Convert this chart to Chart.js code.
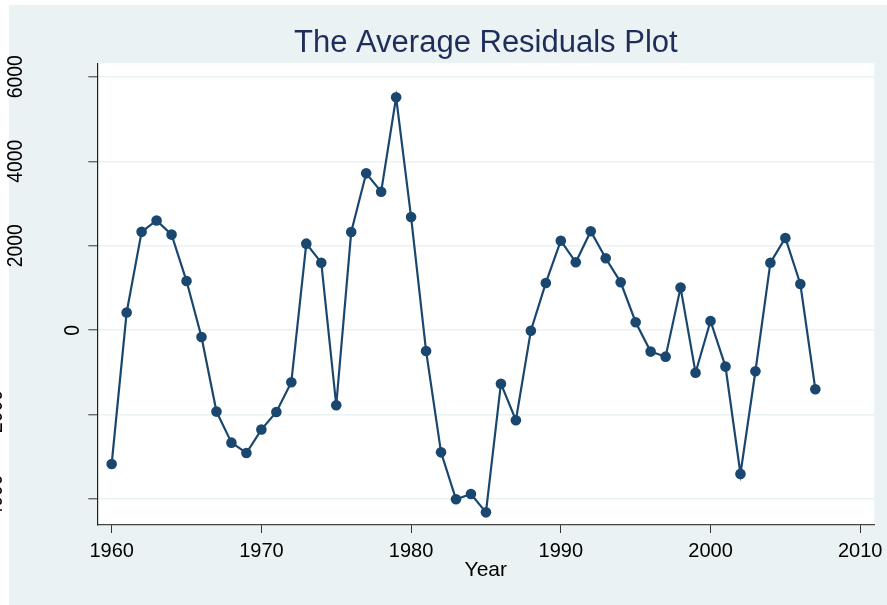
<!DOCTYPE html>
<html>
<head>
<meta charset="utf-8">
<script src="https://cdn.jsdelivr.net/npm/chart.js@4.4.0/dist/chart.umd.min.js"></script>
<style>
  html, body { margin: 0; padding: 0; background: #ffffff; }
  #wrap { width: 887px; height: 605px; }
</style>
</head>
<body>
<div id="wrap"><canvas id="residualsChart"></canvas></div>
<script>
// values
const years = [1960, 1961, 1962, 1963, 1964, 1965, 1966, 1967, 1968, 1969,
               1970, 1971, 1972, 1973, 1974, 1975, 1976, 1977, 1978, 1979,
               1980, 1981, 1982, 1983, 1984, 1985, 1986, 1987, 1988, 1989,
               1990, 1991, 1992, 1993, 1994, 1995, 1996, 1997, 1998, 1999,
               2000, 2001, 2002, 2003, 2004, 2005, 2006, 2007];
const residuals = [-3165, 420, 2330, 2600, 2265, 1165, -160, -1925, -2660, -2905,
                   -2350, -1935, -1230, 2050, 1600, -1775, 2325, 3715, 3280, 5515,
                   2680, -490, -2890, -4000, -3875, -4310, -1265, -2130, -10, 1120,
                   2120, 1610, 2345, 1705, 1135, 190, -505, -625, 1010, -1005,
                   220, -860, -3400, -970, 1600, 2185, 1095, -1395];
const xTicks = [1960, 1970, 1980, 1990, 2000, 2010];
const yTicks = [-4000, -2000, 0, 2000, 4000, 6000];

const navy = "#1a476f";
const bgColor = "#eaf2f3";
const fontFamily = '"Liberation Sans", Arial, Helvetica, sans-serif';

// stata-like background: light outer region, white plot region
const backgroundPlugin = {
    id: "stataBackground",
    beforeDraw(chart) {
        const ctx = chart.ctx;
        const a = chart.chartArea;
        ctx.save();
        ctx.fillStyle = "#ffffff";
        ctx.fillRect(0, 0, chart.width, chart.height);
        ctx.fillStyle = bgColor;
        ctx.fillRect(9, 5, chart.width - 9, chart.height - 5);
        ctx.fillStyle = "#ffffff";
        ctx.fillRect(a.left, a.top, a.right - a.left, a.bottom - a.top);
        ctx.restore();
    }
};

// rotated y tick labels, placed the way the reference has them
// (longer labels drift left and the negative ones run off the edge)
const yLabelPlugin = {
    id: "rotatedYLabels",
    afterDraw(chart) {
        const ctx = chart.ctx;
        const ys = chart.scales.y;
        const left = chart.chartArea.left;
        const squeeze = 0.88;
        ctx.save();
        ctx.font = "22px " + fontFamily;
        ctx.fillStyle = "#000000";
        ctx.textAlign = "center";
        ctx.textBaseline = "middle";
        ys.ticks.forEach((t) => {
            const label = String(t.value);
            const len = ctx.measureText(label.replace("-", "\u2212")).width * squeeze;
            const cx = left - 5.9 - 1.76 * len;
            ctx.save();
            ctx.translate(cx, ys.getPixelForValue(t.value));
            ctx.rotate(-Math.PI / 2);
            ctx.scale(squeeze, 1);
            ctx.fillText(label, 0, 0);
            ctx.restore();
        });
        ctx.restore();
    }
};

const ctx1 = document.getElementById("residualsChart").getContext("2d");

new Chart(ctx1, {
    type: "line",
    data: {
        datasets: [{
            label: "Average residual",
            data: years.map((yr, i) => ({ x: yr, y: residuals[i] })),
            borderColor: navy,
            backgroundColor: navy,
            borderWidth: 2.2,
            pointRadius: 5.3,
            pointBorderWidth: 0,
            pointBackgroundColor: navy,
            lineTension: 0,
            fill: false
        }]
    },
    options: {
        responsive: true,
        maintainAspectRatio: false,
        animation: false,
        layout: {
            padding: { left: 0, right: 12.7, top: 0, bottom: 0 }
        },
        plugins: {
            legend: { display: false },
            tooltip: { enabled: false },
            title: {
                display: true,
                fullSize: false,
                text: "The Average Residuals Plot",
                color: "#1e2d5a",
                font: { family: fontFamily, size: 31, weight: "normal" },
                padding: { top: 25, bottom: 1.1 }
            }
        },
        scales: {
            x: {
                type: "linear",
                min: 1959.04,
                max: 2010.94,
                afterBuildTicks: (scale) => {
                    scale.ticks = xTicks.map((v) => ({ value: v }));
                },
                afterFit: (scale) => {
                    scale.height = 80;
                    scale.paddingLeft = 0;
                    scale.paddingRight = 0;
                },
                ticks: {
                    color: "#000000",
                    font: { family: fontFamily, size: 20 },
                    padding: 6,
                    maxRotation: 0,
                    autoSkip: false,
                    callback: (value) => String(value)
                },
                grid: {
                    display: true,
                    drawOnChartArea: false,
                    drawTicks: true,
                    tickLength: 8,
                    tickColor: "#333333",
                    tickWidth: 1
                },
                border: { display: true, color: "#444444", width: 1.2 },
                title: {
                    display: true,
                    text: "Year",
                    color: "#000000",
                    font: { family: fontFamily, size: 21 },
                    padding: { top: 0, bottom: 22 }
                }
            },
            y: {
                type: "linear",
                min: -4610,
                max: 6320,
                afterBuildTicks: (scale) => {
                    scale.ticks = yTicks.map((v) => ({ value: v }));
                },
                afterFit: (scale) => {
                    scale.width = 97.3;
                    scale.paddingTop = 0;
                    scale.paddingBottom = 0;
                },
                ticks: { display: false },
                grid: {
                    display: true,
                    drawOnChartArea: true,
                    color: bgColor,
                    lineWidth: 1.6,
                    drawTicks: true,
                    tickLength: 9,
                    tickColor: "#333333",
                    tickWidth: 1
                },
                border: { display: true, color: "#222222", width: 1.2 }
            }
        }
    },
    plugins: [backgroundPlugin, yLabelPlugin]
});
</script>
</body>
</html>
